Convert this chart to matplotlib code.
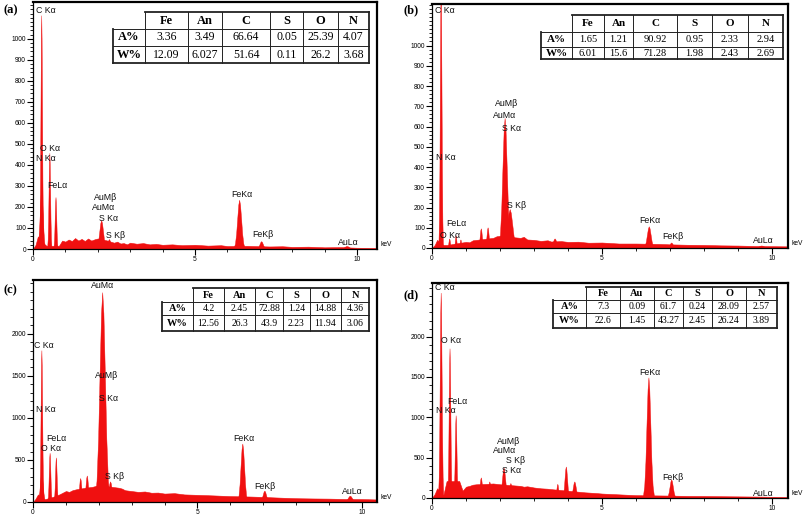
import matplotlib
matplotlib.use("Agg")
import matplotlib.pyplot as plt
from matplotlib.lines import Line2D
from matplotlib.ticker import FixedLocator, MultipleLocator

# ---------------- data ----------------
# composition tables
hdr_abc = ["Fe", "An", "C", "S", "O", "N"]
hdr_d = ["Fe", "Au", "C", "S", "O", "N"]
a_A = ["3.36", "3.49", "66.64", "0.05", "25.39", "4.07"]
a_W = ["12.09", "6.027", "51.64", "0.11", "26.2", "3.68"]
b_A = ["1.65", "1.21", "90.92", "0.95", "2.33", "2.94"]
b_W = ["6.01", "15.6", "71.28", "1.98", "2.43", "2.69"]
c_A = ["4.2", "2.45", "72.88", "1.24", "14.88", "4.36"]
c_W = ["12.56", "26.3", "43.9", "2.23", "11.94", "3.06"]
d_A = ["7.3", "0.09", "61.7", "0.24", "28.09", "2.57"]
d_W = ["22.6", "1.45", "43.27", "2.45", "26.24", "3.89"]

# peaks: centre (keV), height (counts), half base width (keV)
a_pk_x = [0.27, 0.27, 0.52, 0.71, 2.12, 2.36, 6.38, 7.06, 9.70]
a_pk_h = [1110, 280, 455, 245, 135, 45, 232, 35, 12]
a_pk_w = [0.07, 0.13, 0.07, 0.07, 0.17, 0.12, 0.18, 0.15, 0.20]
a_bg_x = [0.0, 0.08, 0.15, 0.33, 0.42, 0.6, 0.8, 0.9, 1.0, 1.1, 1.2, 1.3, 1.4, 1.5, 1.6, 1.7, 1.8, 1.9, 2.0,
          2.3, 2.5, 2.6, 2.7, 2.8, 2.9, 3.0, 3.2, 3.4, 3.6, 3.8, 4.0, 4.3, 4.6, 5.0, 5.4, 5.8, 6.0, 6.6,
          7.3, 7.7, 8.0, 8.5, 9.0, 9.5, 10.0, 10.62]
a_bg_y = [0, 20, 60, 25, 15, 15, 15, 40, 35, 45, 38, 52, 40, 48, 38, 50, 40, 46, 50,
          40, 30, 35, 26, 28, 22, 30, 25, 28, 22, 24, 20, 22, 18, 20, 16, 18, 14, 15,
          12, 13, 10, 11, 8, 9, 6, 5]

b_pk_x = [0.27, 0.52, 0.71, 0.85, 1.45, 1.65, 2.15, 2.30, 3.62, 6.39, 7.05, 9.70]
b_pk_h = [1300, 45, 60, 40, 95, 100, 640, 190, 45, 105, 25, 10]
b_pk_w = [0.07, 0.06, 0.06, 0.06, 0.09, 0.09, 0.19, 0.22, 0.15, 0.16, 0.13, 0.2]
b_bg_x = [0.0, 0.08, 0.15, 0.33, 0.45, 0.8, 1.0, 1.1, 1.2, 1.3, 1.55, 1.8, 1.9, 2.0, 2.6, 2.7, 2.8, 3.0,
          3.2, 3.4, 3.5, 3.8, 4.0, 4.3, 4.6, 5.0, 5.5, 6.0, 6.7, 7.0, 7.5, 8.0, 8.5, 9.0, 9.5, 10.0, 10.47]
b_bg_y = [0, 15, 40, 15, 15, 25, 30, 28, 38, 40, 45, 50, 58, 60, 50, 55, 42, 40,
          35, 38, 32, 34, 30, 31, 26, 27, 22, 22, 20, 18, 16, 15, 13, 12, 10, 9, 8]

c_pk_x = [0.27, 0.27, 0.52, 0.71, 1.45, 1.65, 2.12, 2.36, 6.38, 7.05, 9.65]
c_pk_h = [1800, 350, 580, 525, 280, 310, 2490, 240, 690, 130, 70]
c_pk_w = [0.07, 0.12, 0.07, 0.07, 0.10, 0.11, 0.24, 0.14, 0.16, 0.15, 0.18]
c_bg_x = [0.0, 0.08, 0.15, 0.33, 0.42, 0.6, 0.8, 1.0, 1.1, 1.2, 1.3, 1.6, 1.8, 2.0, 2.6, 2.7, 2.8, 3.0,
          3.2, 3.4, 3.6, 3.8, 4.0, 4.3, 4.6, 5.0, 5.5, 6.0, 6.6, 7.0, 7.5, 8.0, 8.5, 9.0, 9.5, 10.0, 10.46]
c_bg_y = [0, 40, 90, 30, 40, 60, 90, 130, 120, 140, 150, 170, 180, 200, 170, 160, 140, 130,
          120, 125, 110, 112, 100, 105, 90, 85, 78, 70, 65, 60, 52, 45, 42, 40, 36, 35, 30]

d_pk_x = [0.27, 0.53, 0.71, 1.45, 1.70, 2.12, 2.32, 3.70, 3.95, 4.20, 6.38, 7.05]
d_pk_h = [2540, 1850, 1020, 250, 200, 370, 180, 170, 385, 200, 1490, 225]
d_pk_w = [0.08, 0.07, 0.07, 0.10, 0.09, 0.14, 0.10, 0.08, 0.11, 0.13, 0.17, 0.14]
d_bg_x = [0.0, 0.08, 0.15, 0.33, 0.43, 0.8, 0.9, 1.0, 1.1, 1.2, 1.3, 1.6, 1.8, 2.0, 2.6, 2.7, 2.8, 3.0,
          3.2, 3.4, 3.5, 4.0, 4.5, 4.8, 5.0, 5.5, 6.0, 6.6, 7.0, 7.5, 8.0, 8.5, 9.0, 9.5, 10.0, 10.47]
d_bg_y = [0, 50, 120, 30, 210, 210, 90, 140, 150, 165, 170, 175, 180, 170, 150, 140, 145, 130,
          120, 115, 110, 90, 70, 62, 55, 45, 35, 32, 30, 26, 25, 22, 20, 18, 15, 12]

# peak annotations: text, x (keV), y (counts)
a_lab = ["C K\u03b1", "O K\u03b1", "N K\u03b1", "FeL\u03b1", "AuM\u03b2", "AuM\u03b1", "S K\u03b1", "S K\u03b2", "FeK\u03b1", "FeK\u03b2", "AuL\u03b1"]
a_lab_x = [0.09, 0.22, 0.09, 0.43, 1.88, 1.82, 2.04, 2.25, 6.11, 6.76, 9.41]
a_lab_y = [1135, 480, 430, 300, 245, 197, 144, 63, 260, 67, 30]

b_lab = ["C K\u03b1", "AuM\u03b2", "AuM\u03b1", "S K\u03b1", "N K\u03b1", "S K\u03b2", "FeL\u03b1", "O K\u03b1", "FeK\u03b1", "FeK\u03b2", "AuL\u03b1"]
b_lab_x = [0.09, 1.85, 1.80, 2.06, 0.12, 2.20, 0.41, 0.24, 6.09, 6.76, 9.44]
b_lab_y = [1175, 712, 655, 590, 445, 210, 120, 62, 135, 55, 35]

c_lab = ["AuM\u03b1", "C K\u03b1", "AuM\u03b2", "S K\u03b1", "N K\u03b1", "FeL\u03b1", "O K\u03b1", "S K\u03b2", "FeK\u03b1", "FeK\u03b2", "AuL\u03b1"]
c_lab_x = [1.76, 0.03, 1.88, 2.00, 0.09, 0.40, 0.24, 2.19, 6.08, 6.72, 9.39]
c_lab_y = [2580, 1860, 1510, 1225, 1095, 760, 635, 300, 750, 190, 130]

d_lab = ["C K\u03b1", "O K\u03b1", "FeK\u03b1", "FeL\u03b1", "N K\u03b1", "AuM\u03b2", "AuM\u03b1", "S K\u03b2", "S K\u03b1", "FeK\u03b2", "AuL\u03b1"]
d_lab_x = [0.09, 0.26, 6.09, 0.44, 0.12, 1.90, 1.80, 2.18, 2.06, 6.76, 9.44]
d_lab_y = [2615, 1955, 1550, 1195, 1085, 695, 585, 460, 335, 260, 60]

# ---------------- layout ----------------
W, H = 810, 518
RED = "#f01010"
SANS = ["Liberation Sans", "DejaVu Sans"]
SERIF = ["Liberation Serif", "DejaVu Serif"]

fig = plt.figure(figsize=(W / 100, H / 100), dpi=100)


def fx(x):
    return x / W


def fy(y):
    return 1 - y / H


# bell-shaped peak outline (relative offsets / fractions of height)
OFFS = [-1, -0.93, -0.72, -0.52, -0.34, -0.15, 0, 0.15, 0.34, 0.52, 0.72, 0.93, 1]
FRAC = [0, 0.02, 0.1, 0.3, 0.6, 0.9, 1, 0.9, 0.6, 0.3, 0.1, 0.02, 0]


def panel(rect, xmax, ymax, ymajor, yminor, pk, bg, lab, name, name_pos):
    l, t, r, b = rect
    ax = fig.add_axes([fx(l), fy(b), (r - l) / W, (b - t) / H])
    ax.set_xlim(0, xmax)
    ax.set_ylim(0, ymax)
    ax.fill_between(bg[0], bg[1], 0, color=RED, lw=0.4, edgecolor=RED)
    for c, h, w in zip(*pk):
        ax.fill([c + o * w for o in OFFS], [f * h for f in FRAC], color=RED, lw=0.3)
    for s, x, y in zip(*lab):
        ax.text(x, y, s, fontsize=6.3, family=SANS, ha="left", va="center", color="#111111")
    for side in ("top", "right"):
        ax.spines[side].set_linewidth(1.6)
    for side in ("left", "bottom"):
        ax.spines[side].set_linewidth(0.9)
    ax.xaxis.set_major_locator(FixedLocator([0, 5, 10]))
    ax.xaxis.set_minor_locator(MultipleLocator(1))
    ax.yaxis.set_major_locator(FixedLocator(ymajor))
    ax.yaxis.set_minor_locator(MultipleLocator(yminor))
    ax.tick_params(which="major", direction="out", length=4, width=0.8, labelsize=4.8, pad=1,
                   top=False, right=False)
    ax.tick_params(which="minor", direction="out", length=2.2, width=0.6, top=False, right=False)
    for lbl in ax.get_xticklabels() + ax.get_yticklabels():
        lbl.set_family(SANS)
    ax.text(1.01, 0.02, "keV", transform=ax.transAxes, fontsize=4.8, family=SANS,
            ha="left", va="center")
    fig.text(fx(name_pos[0]), fy(name_pos[1]), name, fontsize=9, fontweight="bold",
             family=SERIF, ha="left", va="center")
    return ax


def hline(x0, x1, y, lw):
    fig.add_artist(Line2D([fx(x0), fx(x1)], [fy(y), fy(y)], transform=fig.transFigure,
                          color="#222222", lw=lw, solid_capstyle="projecting"))


def vline(x, y0, y1, lw):
    fig.add_artist(Line2D([fx(x), fx(x)], [fy(y0), fy(y1)], transform=fig.transFigure,
                          color="#222222", lw=lw, solid_capstyle="projecting"))


def table(cols, rows, header, arow, wrow, fs):
    thick, thin = 1.3, 0.7
    hline(cols[1], cols[-1], rows[0], thick)
    hline(cols[0], cols[-1], rows[1], thin)
    hline(cols[0], cols[-1], rows[2], thin)
    hline(cols[0], cols[-1], rows[3], thick)
    vline(cols[0], rows[1], rows[3], thick)
    for x in cols[1:-1]:
        vline(x, rows[0], rows[3], thin)
    vline(cols[-1], rows[0], rows[3], thick)
    for i in range(6):
        cx = (cols[i + 1] + cols[i + 2]) / 2
        fig.text(fx(cx), fy((rows[0] + rows[1]) / 2), header[i], fontsize=fs,
                 fontweight="bold", family=SERIF, ha="center", va="center")
        fig.text(fx(cx), fy((rows[1] + rows[2]) / 2), arow[i], fontsize=fs - 0.5,
                 family=SERIF, ha="center", va="center")
        fig.text(fx(cx), fy((rows[2] + rows[3]) / 2), wrow[i], fontsize=fs - 0.5,
                 family=SERIF, ha="center", va="center")
    cx = (cols[0] + cols[1]) / 2
    fig.text(fx(cx), fy((rows[1] + rows[2]) / 2), "A%", fontsize=fs, fontweight="bold",
             family=SERIF, ha="center", va="center")
    fig.text(fx(cx), fy((rows[2] + rows[3]) / 2), "W%", fontsize=fs, fontweight="bold",
             family=SERIF, ha="center", va="center")


maj_small = [0, 100, 200, 300, 400, 500, 600, 700, 800, 900, 1000]
maj_big = [0, 500, 1000, 1500, 2000]

panel((33, 2, 377, 249), 10.62, 1175, maj_small, 20,
      (a_pk_x, a_pk_h, a_pk_w), (a_bg_x, a_bg_y), (a_lab, a_lab_x, a_lab_y), "(a)", (3, 10))
panel((432, 4, 788, 248), 10.47, 1205, maj_small, 20,
      (b_pk_x, b_pk_h, b_pk_w), (b_bg_x, b_bg_y), (b_lab, b_lab_x, b_lab_y), "(b)", (403, 10))
panel((33, 280, 377, 502), 10.46, 2640, maj_big, 100,
      (c_pk_x, c_pk_h, c_pk_w), (c_bg_x, c_bg_y), (c_lab, c_lab_x, c_lab_y), "(c)", (3, 290))
panel((432, 283, 788, 498), 10.47, 2665, maj_big, 100,
      (d_pk_x, d_pk_h, d_pk_w), (d_bg_x, d_bg_y), (d_lab, d_lab_x, d_lab_y), "(d)", (403, 295))

table([113, 145, 188, 222, 270, 303, 338, 369], [12, 29, 46, 63], hdr_abc, a_A, a_W, 9)
table([541, 572, 604, 633, 677, 712, 748, 783], [15, 32, 47, 59], hdr_abc, b_A, b_W, 8)
table([162, 193, 224, 255, 283, 310, 341, 369], [288, 302, 315, 331], hdr_abc, c_A, c_W, 7.5)
table([553, 586, 620, 654, 683, 712, 746, 777], [287, 300, 313, 328], hdr_d, d_A, d_W, 7.5)

fig.savefig("out.png", dpi=100)
